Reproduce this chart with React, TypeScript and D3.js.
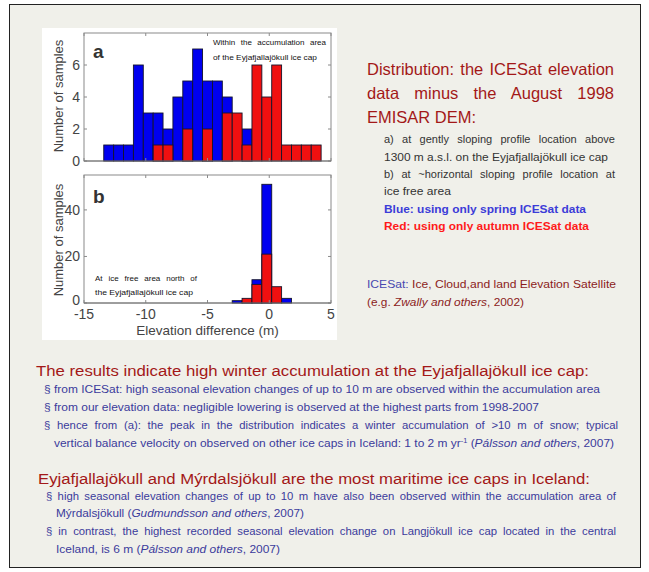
import React, { useRef, useLayoutEffect } from "react";
import * as d3 from "d3";

// histogram bins (bin centres, m) shared by both panels
const binCenters = [-13.0, -12.2, -11.4, -10.6, -9.8, -9.0, -8.2, -7.4, -6.6, -5.8, -5.0, -4.2, -3.4, -2.6, -1.8, -1.0, -0.2, 0.6, 1.4, 2.2, 3.0, 3.8];
const binWidth = 0.8;

// panel a: accumulation area
const springA = [1, 1, 1, 6, 3, 3, 2, 4, 5, 7, 5, 5, 4, 0, 2, 0, 0, 0, 0, 0, 0, 0];
const autumnA = [0, 0, 0, 0, 0, 1, 1, 0, 2, 0, 2, 0, 3, 3, 1, 6, 4, 6, 1, 1, 1, 1];

// panel b: ice free area
const springB = [0, 0, 0, 0, 0, 0, 0, 0, 0, 0, 0, 0, 0, 1, 1, 10, 51, 0, 2, 0, 0, 0];
const autumnB = [0, 0, 0, 0, 0, 0, 0, 0, 0, 0, 0, 0, 0, 0, 2, 8, 21, 7, 0, 0, 0, 0];

const xTicks = [-15, -10, -5, 0, 5];
const yTicksA = [0, 2, 4, 6];
const yTicksB = [0, 20, 40];

const FONT = "'Liberation Sans', Arial, sans-serif";
const SPRING = "#0000f0";
const AUTUMN = "#f01010";
const DARKRED = "#a31818";
const BULLET = "#3b3b9c";
const BS = 11.3; // bullet font size

const x = d3.scaleLinear().domain([-15, 5]).range([84, 331]);

const Hist = ({ y, spring, autumn, yTicks, showX }) => {
  const [x0, x1] = x.range();
  const [yb, yt] = y.range();
  const bars = (vals, color) =>
    vals.map((v, i) =>
      v > 0 ? (
        <rect
          key={color + i}
          x={x(binCenters[i] - binWidth / 2)}
          y={y(v)}
          width={x(binCenters[i] + binWidth / 2) - x(binCenters[i] - binWidth / 2)}
          height={y(0) - y(v)}
          fill={color}
          stroke="#14142a"
          strokeWidth={0.9}
        />
      ) : null
    );
  return (
    <g>
      <rect x={x0} y={yt} width={x1 - x0} height={yb - yt} fill="#fff" stroke="#8a8a8a" strokeWidth={1} />
      {bars(spring, SPRING)}
      {bars(autumn, AUTUMN)}
      {xTicks.map((t) => (
        <g key={"x" + t} stroke="#8a8a8a">
          <line x1={x(t)} x2={x(t)} y1={yb} y2={yb - 3} />
          <line x1={x(t)} x2={x(t)} y1={yt} y2={yt + 3} />
        </g>
      ))}
      {yTicks.map((t) => (
        <g key={"y" + t}>
          <line x1={x0} x2={x0 + 3} y1={y(t)} y2={y(t)} stroke="#8a8a8a" />
          <line x1={x1} x2={x1 - 3} y1={y(t)} y2={y(t)} stroke="#8a8a8a" />
          <text x={80} y={y(t) + (showX && t === 0 ? 2 : 5)} textAnchor="end" fontSize={14} fill="#444">
            {t}
          </text>
        </g>
      ))}
      {showX &&
        xTicks.map((t) => (
          <text key={"xl" + t} x={x(t)} y={yb + 16} textAnchor="middle" fontSize={14} fill="#444">
            {t}
          </text>
        ))}
      <line x1={x0} x2={x1} y1={yb} y2={yb} stroke="#777" />
    </g>
  );
};

// plain line squeezed/stretched to the measured width
const T = ({ x, y, w, size, fill, weight, children }) => (
  <text x={x} y={y} fontSize={size} fill={fill} fontWeight={weight} textLength={w} lengthAdjust="spacingAndGlyphs">
    {children}
  </text>
);

// justified line: widen the word gaps until the line fills w
const J = ({ x, y, w, size, fill, weight, children }) => {
  const ref = useRef(null);
  useLayoutEffect(() => {
    const el = ref.current;
    if (!el) return;
    el.style.wordSpacing = "0px";
    const len = el.getComputedTextLength();
    const spaces = (el.textContent.match(/ /g) || []).length;
    if (spaces && len < w) el.style.wordSpacing = (w - len) / spaces + "px";
    else if (len > w) {
      el.setAttribute("textLength", String(w));
      el.setAttribute("lengthAdjust", "spacingAndGlyphs");
    }
  }, [w]);
  return (
    <text ref={ref} x={x} y={y} fontSize={size} fill={fill} fontWeight={weight}>
      {children}
    </text>
  );
};

export default function App() {
  const yA = d3.scaleLinear().domain([0, 8]).range([161, 33]);
  const yB = d3.scaleLinear().domain([0, 55]).range([303, 175]);
  return (
    <svg width={649} height={572} style={{ position: "absolute", left: 0, top: 0, fontFamily: FONT }}>
      <rect x={0} y={0} width={649} height={572} fill="#fff" />
      <rect x={9.5} y={4.5} width={631} height={563} fill="#f0f0ea" stroke="#222" strokeWidth={1} />

      {/* figure panel */}
      <rect x={42} y={28} width={295} height={312} fill="#fff" />
      <Hist y={yA} spring={springA} autumn={autumnA} yTicks={yTicksA} showX={false} />
      <Hist y={yB} spring={springB} autumn={autumnB} yTicks={yTicksB} showX={true} />
      <text transform="translate(63,96) rotate(-90)" textAnchor="middle" fontSize={13} fill="#444">
        Number of samples
      </text>
      <text transform="translate(63,240) rotate(-90)" textAnchor="middle" fontSize={13} fill="#444">
        Number of samples
      </text>
      <text x={x(-5)} y={335} textAnchor="middle" fontSize={13.5} fill="#444">
        Elevation difference (m)
      </text>
      <text x={93} y={58} fontSize={19} fontWeight="bold" fill="#333">a</text>
      <text x={93} y={203} fontSize={19} fontWeight="bold" fill="#333">b</text>
      <J x={213} y={45} w={113} size={8} fill="#111">Within the accumulation area</J>
      <T x={213} y={60} w={104} size={8} fill="#111">of the Eyjafjallajökull ice cap</T>
      <J x={95} y={281} w={102} size={8} fill="#111">At ice free area north of</J>
      <T x={95} y={295} w={98} size={8} fill="#111">the Eyjafjallajökull ice cap</T>

      {/* right column */}
      <J x={367} y={75} w={247} size={16.5} fill={DARKRED}>Distribution: the ICESat elevation</J>
      <J x={367} y={99} w={247} size={16.5} fill={DARKRED}>data minus the August 1998</J>
      <T x={367} y={123} w={109} size={16.5} fill={DARKRED}>EMISAR DEM:</T>
      <J x={384} y={143} w={231} size={11} fill="#333">a) at gently sloping profile location above</J>
      <T x={384} y={161} w={224} size={11} fill="#333">1300 m a.s.l. on the Eyjafjallajökull ice cap</T>
      <J x={384} y={178} w={231} size={11} fill="#333">b) at ~horizontal sloping profile location at</J>
      <T x={384} y={195} w={67} size={11} fill="#333">ice free area</T>
      <T x={384} y={213} w={202} size={11} fill="#3c3cd8" weight="bold">Blue: using only spring ICESat data</T>
      <T x={384} y={230} w={205} size={11} fill="#ff1a1a" weight="bold">Red: using only autumn ICESat data</T>
      <T x={367} y={288} w={249} size={11} fill="#8c1c1c">
        <tspan fill="#4848b0">ICESat:</tspan> Ice, Cloud,and land Elevation Satellite
      </T>
      <T x={367} y={306} w={157} size={11} fill="#8c1c1c">
        (e.g. <tspan fontStyle="italic">Zwally and others</tspan>, 2002)
      </T>

      {/* bottom section 1 */}
      <T x={36} y={376} w={553} size={15.5} fill={DARKRED}>
        The results indicate high winter accumulation at the Eyjafjallajökull ice cap:
      </T>
      <T x={44} y={393} w={556} size={BS} fill={BULLET}>
        § from ICESat: high seasonal elevation changes of up to 10 m are observed within the accumulation area
      </T>
      <T x={44} y={411} w={495} size={BS} fill={BULLET}>
        § from our elevation data: negligible lowering is observed at the highest parts from 1998-2007
      </T>
      <J x={44} y={429} w={574} size={BS} fill={BULLET}>
        § hence from (a): the peak in the distribution indicates a winter accumulation of &gt;10 m of snow; typical
      </J>
      <T x={54} y={447} w={560} size={BS} fill={BULLET}>
        vertical balance velocity on observed on other ice caps in Iceland: 1 to 2 m yr
        <tspan fontSize={7} dy={-4}>-1</tspan>
        <tspan dy={4}> (</tspan>
        <tspan fontStyle="italic">Pálsson and others</tspan>, 2007)
      </T>

      {/* bottom section 2 */}
      <T x={38} y={484} w={552} size={15.5} fill={DARKRED}>
        Eyjafjallajökull and Mýrdalsjökull are the most maritime ice caps in Iceland:
      </T>
      <J x={46} y={500} w={570} size={BS} fill={BULLET}>
        § high seasonal elevation changes of up to 10 m have also been observed within the accumulation area of
      </J>
      <T x={56} y={517} w={248} size={BS} fill={BULLET}>
        Mýrdalsjökull (<tspan fontStyle="italic">Gudmundsson and others</tspan>, 2007)
      </T>
      <J x={46} y={535} w={570} size={BS} fill={BULLET}>
        § in contrast, the highest recorded seasonal elevation change on Langjökull ice cap located in the central
      </J>
      <T x={56} y={553} w={224} size={BS} fill={BULLET}>
        Iceland, is 6 m (<tspan fontStyle="italic">Pálsson and others</tspan>, 2007)
      </T>
    </svg>
  );
}
